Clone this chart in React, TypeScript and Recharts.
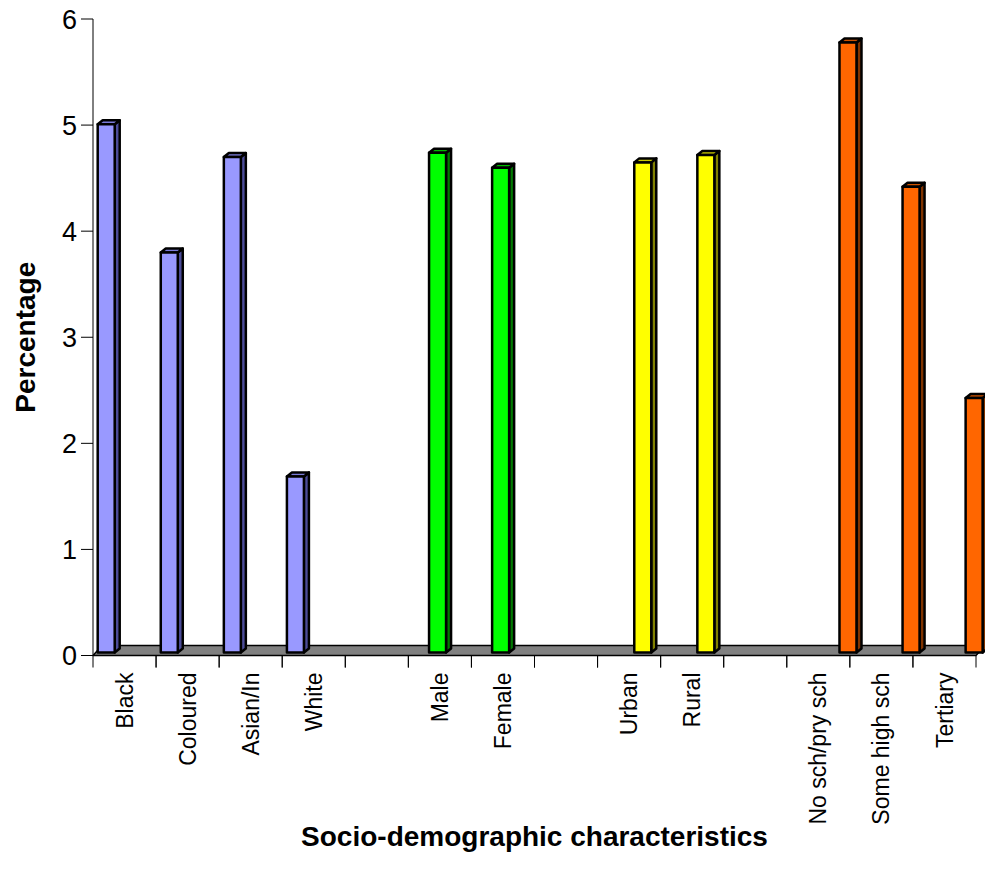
import React from "react";
import { BarChart, Bar, XAxis, YAxis } from "recharts";

// categories along the x axis (blank slots separate the groups)
const categories = [
  "Black", "Coloured", "Asian/In", "White", "",
  "Male", "Female", "",
  "Urban", "Rural", "",
  "No sch/pry sch", "Some high sch", "Tertiary",
];
// one series per characteristic, as in the original clustered chart
const race = [4.98, 3.77, 4.67, 1.66, null, null, null, null, null, null, null, null, null, null];
const sex = [null, null, null, null, null, 4.71, 4.57, null, null, null, null, null, null, null];
const area = [null, null, null, null, null, null, null, null, 4.62, 4.69, null, null, null, null];
const education = [null, null, null, null, null, null, null, null, null, null, null, 5.75, 4.39, 2.4];
const yTicks = [0, 1, 2, 3, 4, 5, 6];

const data = categories.map((name, i) => ({
  name,
  race: race[i],
  sex: sex[i],
  area: area[i],
  education: education[i],
}));

const COLORS: Record<string, { front: string; side: string; top: string }> = {
  race: { front: "#9999FF", side: "#4C4C99", top: "#7A7AD6" },
  sex: { front: "#00FF00", side: "#007A00", top: "#00B800" },
  area: { front: "#FFFF00", side: "#808000", top: "#C8C800" },
  education: { front: "#FF6600", side: "#803300", top: "#CC5200" },
};

const FONT = "Arial, 'Liberation Sans', Helvetica, sans-serif";
const CHART_W = 985;
const CHART_H = 870;
const MARGIN = { top: 19, right: 9, left: 0, bottom: 0 };
const Y_AXIS_W = 93;
const SHIFT = 4.7; // bar front starts this far into its series slot
const BAR_W = 17;
const DX = 5; // bar depth
const DY = 4;
const LIFT = 3; // bars stand slightly above the axis line
const FLOOR_DX = 9;
const FLOOR_DY = 10;
const TICK_SIZE = 12;
const TICK_MARGIN = 5;

function makeBar3D(key: string) {
  return function Bar3D(props: any) {
    const { x, y, height, value } = props;
    if (value == null || height == null) return null;
    const v = Array.isArray(value) ? value[1] : value;
    if (v == null) return null;
    const c = COLORS[key];
    const left = x + SHIFT;
    const top = y - LIFT;
    const bottom = y + height - LIFT;
    const r = left + BAR_W;
    return (
      <g stroke="#000" strokeWidth={2.5} strokeLinejoin="round">
        <polygon points={`${r},${top} ${r + DX},${top - DY} ${r + DX},${bottom - DY} ${r},${bottom}`} fill={c.side} />
        <polygon points={`${left},${top} ${left + DX},${top - DY} ${r + DX},${top - DY} ${r},${top}`} fill={c.top} />
        <rect x={left} y={top} width={BAR_W} height={bottom - top} fill={c.front} />
      </g>
    );
  };
}

// the grey floor, drawn once (behind the first bar) across the whole plot
function Floor(props: any) {
  const { y, height, index } = props;
  if (index !== 0) return null;
  const left = MARGIN.left + Y_AXIS_W;
  const right = CHART_W - MARGIN.right;
  const bottom = y + height;
  return (
    <polygon
      points={`${left},${bottom} ${right},${bottom} ${right + FLOOR_DX},${bottom - FLOOR_DY} ${left + FLOOR_DX},${bottom - FLOOR_DY}`}
      fill="#808080"
      stroke="#000"
      strokeWidth={1.5}
      strokeLinejoin="round"
    />
  );
}

function CategoryTick(props: any) {
  const { x, y, payload } = props;
  const half = payload.offset ?? (CHART_W - Y_AXIS_W - MARGIN.right) / categories.length / 2;
  const axisY = y - TICK_SIZE - TICK_MARGIN;
  return (
    <g>
      <line x1={x - half} y1={axisY} x2={x - half} y2={axisY + TICK_SIZE} stroke="#000" strokeWidth={1} />
      <line x1={x + half} y1={axisY} x2={x + half} y2={axisY + TICK_SIZE} stroke="#000" strokeWidth={1} />
      <text
        x={x}
        y={y}
        dy="0.35em"
        textAnchor="end"
        transform={`rotate(-90, ${x}, ${y})`}
        fontSize={23}
        fontFamily={FONT}
        fill="#000"
      >
        {payload.value}
      </text>
    </g>
  );
}

export default function App() {
  return (
    <div style={{ position: "absolute", left: 0, top: 0, background: "#fff" }}>
      <BarChart
        width={CHART_W}
        height={CHART_H}
        data={data}
        margin={MARGIN}
        barCategoryGap={0}
        barGap={0}
      >
        <YAxis
          domain={[0, 6]}
          ticks={yTicks}
          width={Y_AXIS_W}
          tickSize={TICK_SIZE}
          tickMargin={4}
          axisLine={{ stroke: "#000", strokeWidth: 1 }}
          tickLine={{ stroke: "#000", strokeWidth: 1 }}
          tick={{ fontSize: 27, fontFamily: FONT, fill: "#000" }}
          label={(p: any) => {
            const vb = p.viewBox;
            const cx = vb.x + 25;
            const cy = vb.y + vb.height / 2;
            return (
              <text
                x={cx}
                y={cy}
                textAnchor="middle"
                dominantBaseline="central"
                transform={`rotate(-90, ${cx}, ${cy})`}
                fontSize={28}
                fontWeight="bold"
                fontFamily={FONT}
                fill="#000"
              >
                Percentage
              </text>
            );
          }}
        />
        <XAxis
          dataKey="name"
          interval={0}
          height={214.5}
          tickSize={TICK_SIZE}
          tickMargin={TICK_MARGIN}
          tickLine={false}
          axisLine={{ stroke: "#000", strokeWidth: 1 }}
          tick={<CategoryTick />}
          label={(p: any) => {
            const vb = p.viewBox;
            return (
              <text
                x={vb.x + vb.width / 2}
                y={vb.y + 190}
                textAnchor="middle"
                fontSize={28}
                fontWeight="bold"
                fontFamily={FONT}
                fill="#000"
              >
                Socio-demographic characteristics
              </text>
            );
          }}
        />
        <Bar dataKey="race" isAnimationActive={false} shape={makeBar3D("race")} background={<Floor />} />
        <Bar dataKey="sex" isAnimationActive={false} shape={makeBar3D("sex")} />
        <Bar dataKey="area" isAnimationActive={false} shape={makeBar3D("area")} />
        <Bar dataKey="education" isAnimationActive={false} shape={makeBar3D("education")} />
      </BarChart>
    </div>
  );
}
